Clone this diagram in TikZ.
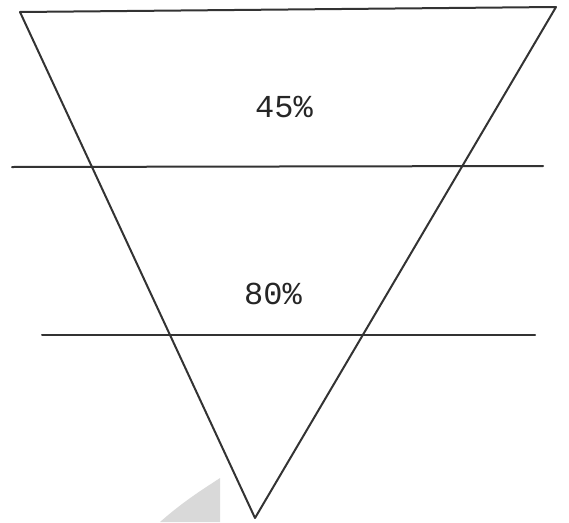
\documentclass[tikz,border=0pt]{standalone}
\usepackage{fontspec}
\newfontfamily\typew{Liberation Mono}
\begin{document}
\begin{tikzpicture}[x=1pt,y=-1pt,
  edge/.style={line width=2pt, draw=black!80, line join=round, line cap=round},
  pct/.style={font=\typew\fontsize{32}{36}\selectfont, text=black!85, inner sep=0pt}]
\useasboundingbox (0,0) rectangle (569,522);
\fill[black!15] (160,522) .. controls (185,500) and (205,488) .. (220,478) -- (220,522) -- cycle;
\coordinate (tl) at (20,12);
\coordinate (tr) at (556,7);
\coordinate (bt) at (255,518);
\coordinate (a1) at (12,167);
\coordinate (a2) at (543,166);
\coordinate (b1) at (42,335);
\coordinate (b2) at (535,335);
\draw[edge] (tl) -- (tr) -- (bt) -- cycle;
\draw[edge] (a1) -- (a2);
\draw[edge] (b1) -- (b2);
\node[pct] (p45) at (284,107) {45\%};
\node[pct] (p80) at (273,294) {80\%};
\end{tikzpicture}
\end{document}
